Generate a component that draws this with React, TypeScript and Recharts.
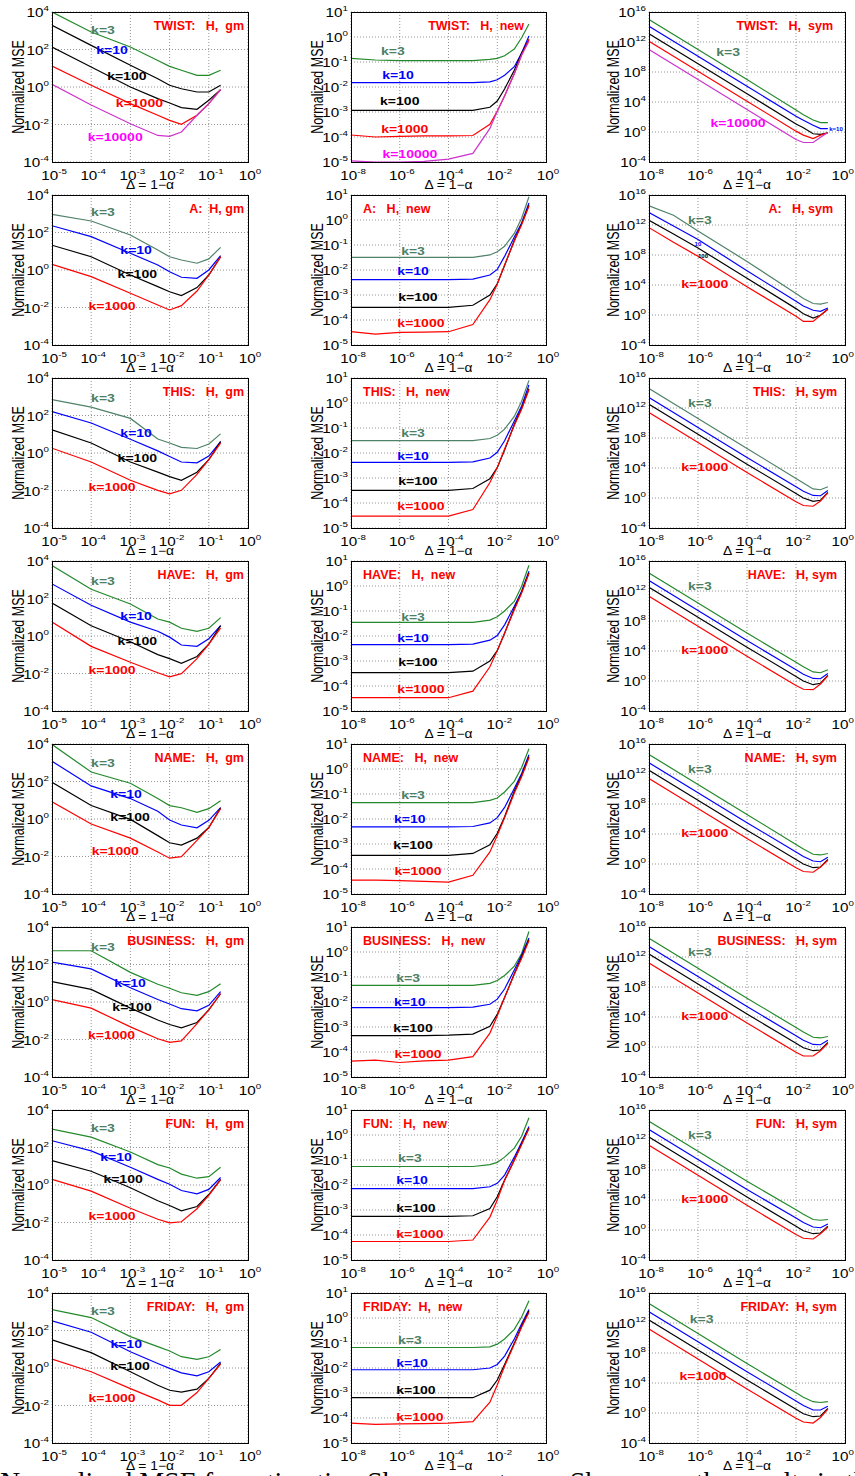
import React from "react";
import { LineChart, Line, XAxis, YAxis, CartesianGrid, ReferenceDot } from "recharts";

// x grids shared by every panel of a column
const GM_X = [1e-5, 1e-4, 1e-3, 5e-3, 1e-2, 2e-2, 5e-2, 1e-1, 2e-1];
const NEW_X = [1e-8, 1e-7, 1e-6, 1e-5, 1e-4, 1e-3, 5e-3, 1e-2, 2e-2, 5e-2, 1e-1, 2e-1];
const SYM_X = [1e-8, 1e-7, 1e-6, 1e-4, 1e-2, 2e-2, 5e-2, 1e-1, 2e-1];

const GM_XTICKS = [1e-5, 1e-4, 1e-3, 1e-2, 1e-1, 1];
const GM_YTICKS = [1e-4, 1e-2, 1, 1e2, 1e4];
const NEW_XTICKS = [1e-8, 1e-6, 1e-4, 1e-2, 1];
const NEW_YTICKS = [1e-5, 1e-4, 1e-3, 1e-2, 1e-1, 1, 10];
const SYM_XTICKS = [1e-8, 1e-6, 1e-4, 1e-2, 1];
const SYM_YTICKS = [1e-4, 1, 1e4, 1e8, 1e12, 1e16];

const WORDS = ["TWIST", "A", "THIS", "HAVE", "NAME", "BUSINESS", "FUN", "FRIDAY"];
const K_TEXT = ["k=3", "k=10", "k=100", "k=1000", "k=10000"];

// ---- "gm" column (rows: k=3, k=10, k=100, k=1000[, k=10000]) ----
const TWIST_GM = [
  [1e4, 850, 135, 26, 12.6, 7.8, 4.2, 4.2, 7.8],
  [1950, 166, 14.5, 2.75, 1.23, 0.81, 0.54, 0.54, 1.23],
  [135, 11.7, 1.0, 0.24, 0.14, 0.079, 0.065, 0.195, 0.72],
  [13.2, 1.23, 0.13, 0.031, 0.0166, 0.0102, 0.031, 0.13, 0.72],
  [1.38, 0.11, 0.011, 2.6e-3, 2.35e-3, 4e-3, 0.031, 0.13, 0.72],
];
const A_GM = [
  [930, 410, 74, 11.7, 5.1, 3.4, 2.3, 3.9, 16],
  [230, 60, 7.8, 1.86, 0.81, 0.41, 0.36, 1.0, 5.8],
  [21, 5.1, 0.54, 0.13, 0.069, 0.043, 0.115, 0.54, 5.1],
  [2.0, 0.44, 0.058, 0.0135, 7.4e-3, 0.0126, 0.076, 0.54, 5.0],
];
const THIS_GM = [
  [700, 280, 70, 5.6, 3.4, 2.0, 1.74, 3.0, 10.5],
  [160, 40, 5.4, 1.3, 0.65, 0.33, 0.3, 0.68, 4.1],
  [17, 3.4, 0.33, 0.095, 0.055, 0.035, 0.095, 0.44, 4.1],
  [1.8, 0.33, 0.035, 0.0102, 6.6e-3, 0.0102, 0.072, 0.44, 3.4],
];
const HAVE_GM = [
  [5800, 310, 51, 8.1, 5.5, 2.6, 1.78, 2.6, 9.5],
  [600, 44, 5.5, 1.78, 0.87, 0.33, 0.28, 0.72, 3.55],
  [58, 3.55, 0.49, 0.102, 0.062, 0.035, 0.081, 0.37, 3.55],
  [5.5, 0.28, 0.04, 0.011, 6.6e-3, 9.8e-3, 0.062, 0.37, 2.6],
];
const NAME_GM = [
  [9500, 320, 81, 12.3, 5.2, 4.0, 2.24, 3.55, 9.3],
  [1200, 58, 12.3, 2.6, 0.89, 0.48, 0.34, 0.85, 4.0],
  [91, 5.2, 0.95, 0.13, 0.054, 0.041, 0.095, 0.35, 4.0],
  [8.3, 0.54, 0.095, 0.0174, 8.1e-3, 9.8e-3, 0.072, 0.35, 3.55],
];
const BUSINESS_GM = [
  [540, 540, 38, 8.9, 5.4, 3.1, 2.24, 3.55, 9.5],
  [135, 58, 5.8, 1.35, 0.78, 0.44, 0.34, 0.66, 3.55],
  [12.3, 4.7, 0.47, 0.11, 0.063, 0.042, 0.081, 0.38, 2.75],
  [1.35, 0.47, 0.047, 0.011, 7.1e-3, 8.5e-3, 0.071, 0.38, 2.75],
];
const FUN_GM = [
  [950, 355, 58, 12.3, 8.1, 3.8, 2.3, 2.8, 8.9],
  [230, 66, 8.9, 2.0, 1.1, 0.51, 0.34, 0.58, 2.5],
  [20, 5.4, 0.71, 0.145, 0.081, 0.042, 0.071, 0.31, 2.0],
  [2.0, 0.47, 0.058, 0.015, 9.5e-3, 0.011, 0.054, 0.28, 1.86],
];
const FRIDAY_GM = [
  [1300, 490, 47, 13.8, 8.1, 4.0, 2.9, 4.0, 9.8],
  [330, 81, 7.4, 1.74, 0.95, 0.55, 0.38, 0.63, 2.1],
  [32, 6.6, 0.63, 0.12, 0.065, 0.052, 0.074, 0.28, 1.74],
  [3.0, 0.63, 0.079, 0.02, 0.0102, 0.0102, 0.049, 0.28, 1.62],
];

// ---- "new" column ----
const TWIST_NEW = [
  [0.14, 0.12, 0.113, 0.113, 0.113, 0.113, 0.128, 0.14, 0.178, 0.33, 0.93, 3.3],
  [0.015, 0.015, 0.015, 0.015, 0.015, 0.015, 0.016, 0.0195, 0.0295, 0.065, 0.23, 1.1],
  [1.17e-3, 1.17e-3, 1.17e-3, 1.17e-3, 1.17e-3, 1.17e-3, 1.55e-3, 2.75e-3, 8.3e-3, 0.047, 0.23, 0.8],
  [1.2e-4, 1e-4, 1.05e-4, 1.1e-4, 1.1e-4, 1.15e-4, 3.2e-4, 1.07e-3, 4.4e-3, 0.034, 0.19, 0.8],
  [1.1e-5, 1.0e-5, 1.0e-5, 1.05e-5, 1.3e-5, 2.2e-5, 2.2e-4, 1.07e-3, 4.4e-3, 0.034, 0.19, 0.68],
];
const A_NEW = [
  [0.032, 0.032, 0.032, 0.032, 0.032, 0.032, 0.04, 0.054, 0.089, 0.29, 1.17, 8.5],
  [4.1e-3, 4.1e-3, 4.1e-3, 4.1e-3, 4.1e-3, 4.3e-3, 6.3e-3, 0.0105, 0.035, 0.21, 0.76, 4.8],
  [3.2e-4, 3.2e-4, 3.2e-4, 3.2e-4, 3.2e-4, 3.9e-4, 1.0e-3, 2.8e-3, 0.015, 0.155, 0.7, 3.9],
  [3.4e-5, 2.7e-5, 3.2e-5, 3.3e-5, 3.4e-5, 6.6e-5, 6.5e-4, 2.7e-3, 0.016, 0.14, 0.65, 3.6],
];
const THIS_NEW = [
  [0.031, 0.031, 0.031, 0.031, 0.031, 0.031, 0.038, 0.051, 0.09, 0.29, 1.17, 8.0],
  [4.2e-3, 4.2e-3, 4.2e-3, 4.2e-3, 4.2e-3, 4.4e-3, 6.3e-3, 0.0107, 0.031, 0.19, 0.76, 5.3],
  [3.2e-4, 3.2e-4, 3.2e-4, 3.2e-4, 3.2e-4, 3.8e-4, 9.3e-4, 2.6e-3, 0.013, 0.14, 0.62, 3.7],
  [3.0e-5, 3.0e-5, 3.0e-5, 3.0e-5, 3.0e-5, 5.5e-5, 6.6e-4, 2.6e-3, 0.0144, 0.126, 0.56, 3.4],
];
const HAVE_NEW = [
  [0.035, 0.035, 0.035, 0.035, 0.035, 0.035, 0.043, 0.059, 0.1, 0.24, 0.98, 6.8],
  [4.5e-3, 4.5e-3, 4.5e-3, 4.5e-3, 4.5e-3, 4.7e-3, 6.8e-3, 0.0104, 0.028, 0.155, 0.62, 3.9],
  [3.4e-4, 3.4e-4, 3.4e-4, 3.4e-4, 3.4e-4, 3.9e-4, 1.0e-3, 2.6e-3, 0.013, 0.125, 0.56, 3.4],
  [3.4e-5, 3.4e-5, 3.4e-5, 3.4e-5, 3.4e-5, 6.2e-5, 5.9e-4, 2.6e-3, 0.013, 0.11, 0.52, 3.2],
];
const NAME_NEW = [
  [0.045, 0.045, 0.045, 0.045, 0.045, 0.045, 0.056, 0.069, 0.12, 0.32, 1.15, 6.5],
  [4.8e-3, 4.8e-3, 4.8e-3, 4.8e-3, 4.8e-3, 5.0e-3, 7.0e-3, 0.0113, 0.029, 0.165, 0.66, 3.7],
  [3.5e-4, 3.5e-4, 3.5e-4, 3.5e-4, 3.5e-4, 4.2e-4, 9.3e-4, 2.7e-3, 0.0124, 0.13, 0.55, 3.1],
  [3.6e-5, 3.6e-5, 3.4e-5, 3.2e-5, 3.0e-5, 5.6e-5, 4.8e-4, 2.2e-3, 0.0112, 0.107, 0.49, 2.8],
];
const BUSINESS_NEW = [
  [0.046, 0.046, 0.046, 0.046, 0.046, 0.046, 0.056, 0.072, 0.115, 0.27, 0.87, 6.6],
  [6.0e-3, 6.0e-3, 6.0e-3, 6.0e-3, 6.0e-3, 6.2e-3, 8.1e-3, 0.013, 0.033, 0.19, 0.76, 3.6],
  [4.5e-4, 4.5e-4, 4.5e-4, 4.5e-4, 4.7e-4, 5.2e-4, 1.07e-3, 3.2e-3, 0.015, 0.135, 0.64, 3.1],
  [4.3e-5, 4.7e-5, 3.8e-5, 4.4e-5, 4.7e-5, 6.5e-5, 5.7e-4, 2.75e-3, 0.015, 0.126, 0.55, 2.9],
];
const FUN_NEW = [
  [0.055, 0.055, 0.055, 0.055, 0.055, 0.055, 0.065, 0.08, 0.13, 0.3, 0.89, 4.9],
  [7.2e-3, 7.2e-3, 7.2e-3, 7.2e-3, 7.2e-3, 7.2e-3, 8.5e-3, 0.0117, 0.025, 0.13, 0.51, 2.2],
  [5.6e-4, 5.6e-4, 5.6e-4, 5.6e-4, 5.6e-4, 5.9e-4, 1.15e-3, 3.4e-3, 0.016, 0.1, 0.45, 1.9],
  [5.5e-5, 5.5e-5, 5.5e-5, 5.5e-5, 5.5e-5, 6.3e-5, 5.2e-4, 2.5e-3, 0.015, 0.096, 0.41, 1.8],
];
const FRIDAY_NEW = [
  [0.066, 0.066, 0.066, 0.066, 0.066, 0.066, 0.07, 0.09, 0.145, 0.35, 1.1, 4.9],
  [8.5e-3, 8.5e-3, 8.5e-3, 8.5e-3, 8.5e-3, 8.5e-3, 0.01, 0.0138, 0.03, 0.145, 0.59, 2.2],
  [6.5e-4, 6.5e-4, 6.5e-4, 6.5e-4, 6.5e-4, 6.5e-4, 1.3e-3, 3.3e-3, 0.0138, 0.098, 0.48, 1.9],
  [6.2e-5, 5.6e-5, 5.8e-5, 6.0e-5, 6.2e-5, 7.2e-5, 4.3e-4, 2.1e-3, 0.0117, 0.09, 0.43, 1.66],
];

// ---- "sym" column ----
const TWIST_SYM = [
  [1e15, 1e13, 1e11, 1e7, 850, 200, 40, 18, 18],
  [1.26e14, 1.26e12, 1.26e10, 1.26e6, 126, 37, 7.9, 2.8, 2.8],
  [1.26e13, 1.26e11, 1.26e9, 1.26e5, 11.7, 3.8, 0.58, 0.47, 0.79],
  [1.26e12, 1.26e10, 1.26e8, 1.26e4, 1.3, 0.38, 0.135, 0.38, 0.79],
  [1e11, 1e9, 1e7, 1000, 0.1, 0.04, 0.04, 0.2, 0.87],
];
const A_SYM = [
  [3.6e14, 2e13, 1.55e11, 1.4e7, 760, 160, 34, 28, 46],
  [4.6e13, 7.4e11, 1.2e10, 7.8e5, 69, 16, 4.3, 3.1, 8.7],
  [4.3e12, 6.3e10, 8.7e8, 7.9e4, 7.1, 1.5, 0.4, 0.91, 5.8],
  [4.4e11, 5e9, 6.6e7, 6e3, 0.66, 0.14, 0.14, 0.91, 5.8],
];
const THIS_SYM = [
  [4e14, 4e12, 4e10, 4e6, 400, 100, 16, 12.6, 32],
  [2.5e13, 2.5e11, 2.5e9, 2.5e5, 32, 7.9, 2.2, 2.0, 10],
  [3.2e12, 3.2e10, 3.2e8, 3.2e4, 4, 1, 0.35, 0.5, 5.6],
  [2.5e11, 2.5e9, 2.5e7, 2500, 0.32, 0.1, 0.08, 0.4, 5],
];
const HAVE_SYM = [
  [2.5e14, 2.5e12, 2.5e10, 2.5e6, 320, 79, 16, 12.6, 32],
  [2.5e13, 2.5e11, 2.5e9, 2.5e5, 32, 7.9, 2.2, 2.0, 10],
  [3.2e12, 3.2e10, 3.2e8, 3.2e4, 4, 1, 0.32, 0.5, 5.6],
  [2e11, 2e9, 2e7, 2000, 0.25, 0.08, 0.07, 0.4, 5],
];
const NAME_SYM = [
  [4e14, 4e12, 4e10, 4e6, 400, 100, 20, 16, 25],
  [3.2e13, 3.2e11, 3.2e9, 3.2e5, 40, 10, 2.5, 2, 7.9],
  [3.2e12, 3.2e10, 3.2e8, 3.2e4, 4, 1, 0.32, 0.4, 4],
  [2.5e11, 2.5e9, 2.5e7, 2500, 0.32, 0.1, 0.08, 0.4, 3.2],
];
const BUSINESS_SYM = [
  [3.2e14, 3.2e12, 3.2e10, 3.2e6, 400, 100, 20, 16, 25],
  [2.5e13, 2.5e11, 2.5e9, 2.5e5, 32, 7.9, 2.2, 2, 7.9],
  [2.5e12, 2.5e10, 2.5e8, 2.5e4, 3.2, 0.8, 0.32, 0.4, 4],
  [1.6e11, 1.6e9, 1.6e7, 1600, 0.2, 0.063, 0.063, 0.32, 3.2],
];
const FUN_SYM = [
  [3.2e14, 3.2e12, 3.2e10, 3.2e6, 500, 126, 25, 20, 25],
  [2.5e13, 2.5e11, 2.5e9, 2.5e5, 40, 10, 2.5, 2, 6.3],
  [2.5e12, 2.5e10, 2.5e8, 2.5e4, 3.2, 0.8, 0.32, 0.4, 3.2],
  [2e11, 2e9, 2e7, 2000, 0.25, 0.08, 0.063, 0.32, 2.5],
];
const FRIDAY_SYM = [
  [4e14, 4e12, 4e10, 4e6, 500, 126, 32, 25, 32],
  [3.2e13, 3.2e11, 3.2e9, 3.2e5, 40, 10, 2.5, 2.5, 7.9],
  [2.5e12, 2.5e10, 2.5e8, 2.5e4, 3.2, 0.8, 0.32, 0.4, 4],
  [1.6e11, 1.6e9, 1.6e7, 1600, 0.2, 0.063, 0.045, 0.25, 3.2],
];

// k-label anchors (data coords): [x, y] per k, same order as series
const TWIST_GM_LBL = [[2e-4, 1050], [3.4e-4, 91], [8.1e-4, 3.7], [1.7e-3, 0.15], [4.1e-4, 2.3e-3]];
const A_GM_LBL = [[2e-4, 1200], [1.4e-3, 12.6], [1.5e-3, 0.59], [3.4e-4, 0.013]];
const THIS_GM_LBL = [[2e-4, 830], [1.4e-3, 11.5], [1.5e-3, 0.52], [3.4e-4, 0.015]];
const HAVE_GM_LBL = [[2e-4, 850], [1.4e-3, 12.6], [1.5e-3, 0.52], [3.4e-4, 0.015]];
const NAME_GM_LBL = [[2e-4, 940], [7.7e-4, 23], [9.8e-4, 1.23], [4.1e-4, 0.021]];
const BUSINESS_GM_LBL = [[2e-4, 890], [9.8e-4, 10], [1.1e-3, 0.58], [3.3e-4, 0.017]];
const FUN_GM_LBL = [[2e-4, 1050], [4.3e-4, 33], [6.5e-4, 2.2], [3.4e-4, 0.023]];
const FRIDAY_GM_LBL = [[2e-4, 1050], [7.8e-4, 20], [9.8e-4, 1.23], [3.4e-4, 0.027]];

const TWIST_NEW_LBL = [[5.2e-7, 0.27], [8.5e-7, 0.03], [1e-6, 2.7e-3], [1.6e-6, 2.2e-4], [2.6e-6, 2.2e-5]];
const A_NEW_LBL = [[3.5e-6, 0.061], [3.5e-6, 8.9e-3], [5.6e-6, 8.1e-4], [7.4e-6, 7.4e-5]];
const THIS_NEW_LBL = [[3.5e-6, 0.063], [3.5e-6, 7.9e-3], [5.6e-6, 7.9e-4], [7.4e-6, 7.4e-5]];
const HAVE_NEW_LBL = [[3.5e-6, 0.061], [3.5e-6, 8.1e-3], [5.6e-6, 8.9e-4], [7.4e-6, 7.4e-5]];
const NAME_NEW_LBL = [[3.5e-6, 0.089], [2.6e-6, 9.8e-3], [3.5e-6, 8.9e-4], [5.6e-6, 8.1e-5]];
const BUSINESS_NEW_LBL = [[2.2e-6, 0.089], [2.6e-6, 9.8e-3], [3.5e-6, 8.9e-4], [5.6e-6, 8.1e-5]];
const FUN_NEW_LBL = [[2.6e-6, 0.126], [3.2e-6, 0.0155], [4.6e-6, 1.26e-3], [6.7e-6, 1.07e-4]];
const FRIDAY_NEW_LBL = [[2.6e-6, 0.129], [3.2e-6, 0.0155], [4.6e-6, 1.29e-3], [6.7e-6, 1.07e-4]];

const TWIST_SYM_LBL = [[1.7e-5, 4.3e10], [0.43, 2.3], null, null, [4.3e-5, 14.5]];
const A_SYM_LBL = [[1.2e-6, 4.3e12], [1e-6, 2.5e9], [1.6e-6, 6.3e7], [1.9e-6, 1.6e4]];
const ROW_SYM_LBL = [[1.2e-6, 4.6e12], null, null, [1.9e-6, 1.3e4]];
const FRIDAY_SYM_LBL = [[1.4e-6, 4e12], null, null, [1.6e-6, 8e4]];

const GM_DATA = [TWIST_GM, A_GM, THIS_GM, HAVE_GM, NAME_GM, BUSINESS_GM, FUN_GM, FRIDAY_GM];
const NEW_DATA = [TWIST_NEW, A_NEW, THIS_NEW, HAVE_NEW, NAME_NEW, BUSINESS_NEW, FUN_NEW, FRIDAY_NEW];
const SYM_DATA = [TWIST_SYM, A_SYM, THIS_SYM, HAVE_SYM, NAME_SYM, BUSINESS_SYM, FUN_SYM, FRIDAY_SYM];
const GM_LBL = [TWIST_GM_LBL, A_GM_LBL, THIS_GM_LBL, HAVE_GM_LBL, NAME_GM_LBL, BUSINESS_GM_LBL, FUN_GM_LBL, FRIDAY_GM_LBL];
const NEW_LBL = [TWIST_NEW_LBL, A_NEW_LBL, THIS_NEW_LBL, HAVE_NEW_LBL, NAME_NEW_LBL, BUSINESS_NEW_LBL, FUN_NEW_LBL, FRIDAY_NEW_LBL];
const SYM_LBL = [TWIST_SYM_LBL, A_SYM_LBL, ROW_SYM_LBL, ROW_SYM_LBL, ROW_SYM_LBL, ROW_SYM_LBL, ROW_SYM_LBL, FRIDAY_SYM_LBL];

const FONT = '"Liberation Sans", Arial, Helvetica, sans-serif';
const GREEN = "#23892b";
const GREY_GREEN = "#4f8268";
const K3_TEXT = "#4b8064";
const BLUE = "#0000ff";
const RED = "#ff0000";
const MAGENTA = "#cc33cc";

const PAGE_W = 855;
const ROW_TOP0 = 12;
const ROW_STEP = 183;
const PLOT_H = 150;
const STRETCH = 1.22; // the original figure's text is wider than it is tall

const COLS = [
  { left: 52, width: 196, xs: GM_X, xDomain: [1e-5, 1], yDomain: [1e-4, 1e4], xTicks: GM_XTICKS, yTicks: GM_YTICKS, ylabelX: 19, data: GM_DATA, lbl: GM_LBL },
  { left: 351, width: 195, xs: NEW_X, xDomain: [1e-8, 1], yDomain: [1e-5, 10], xTicks: NEW_XTICKS, yTicks: NEW_YTICKS, ylabelX: 318, data: NEW_DATA, lbl: NEW_LBL },
  { left: 649, width: 196, xs: SYM_X, xDomain: [1e-8, 1], yDomain: [1e-4, 1e16], xTicks: SYM_XTICKS, yTicks: SYM_YTICKS, ylabelX: 614, data: SYM_DATA, lbl: SYM_LBL },
];

function titleFor(word: string, col: number): string {
  if (col === 0) return word === "A" ? "A:  H, gm" : `${word}:   H,  gm`;
  if (col === 1) return word === "FRIDAY" ? "FRIDAY:  H,  new" : `${word}:   H,  new`;
  if (word === "TWIST") return "TWIST:   H,  sym";
  if (word === "FRIDAY") return "FRIDAY:  H, sym";
  return `${word}:   H, sym`;
}

function seriesColors(row: number, col: number, n: number): string[] {
  const g = row === 1 || row === 2 ? GREY_GREEN : GREEN;
  if (row === 0 && col === 0) return [GREEN, "#000", "#000", RED, MAGENTA];
  return [g, BLUE, "#000", RED, MAGENTA].slice(0, n);
}
const LABEL_COLORS = [K3_TEXT, BLUE, "#000", RED, "#ff00ff"];

const XTick = (props: any) => {
  const { x, y, payload, rightLimit } = props;
  const e = Math.round(Math.log10(payload.value));
  const half = ((12.5 * 1.112 + 8 * 0.556 * String(e).length) * STRETCH) / 2;
  // keep the last label inside the page instead of letting it run off the edge
  const cx = Math.min(x + 2, (rightLimit ?? Infinity) - half - 1);
  return (
    <g transform={`translate(${cx},${y + 18}) scale(${STRETCH},1)`}>
      <text x={0} y={0} textAnchor="middle" fontFamily={FONT} fontSize={12.5} fill="#000">
        10<tspan dy={-6} fontSize={8}>{e}</tspan>
      </text>
    </g>
  );
};

const YTick = (props: any) => {
  const { x, y, payload } = props;
  const e = Math.round(Math.log10(payload.value));
  return (
    <g transform={`translate(${x - 3},${y + 5}) scale(${STRETCH},1)`}>
      <text x={0} y={0} textAnchor="end" fontFamily={FONT} fontSize={12.5} fill="#000">
        10<tspan dy={-6} fontSize={8}>{e}</tspan>
      </text>
    </g>
  );
};

const KLabel = (props: any) => {
  const vb = props.viewBox || {};
  const cx = (vb.x ?? 0) + (vb.width ?? 0) / 2;
  const cy = (vb.y ?? 0) + (vb.height ?? 0) / 2;
  const size = props.size ?? 12;
  return (
    <g transform={`translate(${cx},${cy}) scale(${STRETCH},1)`}>
      <text x={0} y={size * 0.36} textAnchor="middle" fill={props.color} fontSize={size} fontWeight="bold" fontFamily={FONT}>
        {props.text}
      </text>
    </g>
  );
};

function Panel({ row, col }: { row: number; col: number }) {
  const c = COLS[col];
  const top = ROW_TOP0 + ROW_STEP * row;
  const series = c.data[row];
  const labels = c.lbl[row];
  const colors = seriesColors(row, col, series.length);
  const chartLeft = c.left - 50;
  const data = c.xs.map((x, i) => {
    const o: Record<string, number> = { x };
    series.forEach((s, j) => (o["s" + j] = s[i]));
    return o;
  });
  return (
    <div style={{ position: "absolute", left: chartLeft, top: top - 10 }}>
      <LineChart width={c.width + 75} height={PLOT_H + 40} data={data} margin={{ top: 10, right: 25, bottom: 0, left: 0 }}>
        <CartesianGrid stroke="#7a7a7a" strokeDasharray="1 2" strokeWidth={0.8} />
        <XAxis dataKey="x" type="number" scale="log" domain={c.xDomain} ticks={c.xTicks} interval={0} allowDataOverflow height={30} tickSize={0} tickMargin={0} axisLine={false} tickLine={false} tick={<XTick rightLimit={PAGE_W - chartLeft} />} />
        <YAxis type="number" scale="log" domain={c.yDomain} ticks={c.yTicks} interval={0} allowDataOverflow width={50} tickSize={0} tickMargin={0} axisLine={false} tickLine={false} tick={<YTick />} />
        {series.map((_, j) => (
          <Line key={j} dataKey={"s" + j} type="linear" stroke={colors[j]} strokeWidth={1.2} dot={false} activeDot={false} isAnimationActive={false} />
        ))}
        {labels.map((l, j) => {
          if (!l) return null;
          const tiny = col === 2 && ((row === 0 && j === 1) || (row === 1 && (j === 1 || j === 2)));
          const text = tiny && row === 1 ? K_TEXT[j].slice(2) : K_TEXT[j];
          return (
            <ReferenceDot key={"l" + j} x={l[0]} y={l[1]} r={1} fill="none" stroke="none" ifOverflow="visible"
              label={<KLabel text={text} color={LABEL_COLORS[j]} size={tiny ? 5 : 11.5} />} />
          );
        })}
      </LineChart>
    </div>
  );
}

export default function App() {
  const panels: React.ReactNode[] = [];
  const overlay: React.ReactNode[] = [];
  WORDS.forEach((word, row) => {
    COLS.forEach((c, col) => {
      const top = ROW_TOP0 + ROW_STEP * row;
      panels.push(<Panel key={`${row}-${col}`} row={row} col={col} />);
      const title = titleFor(word, col);
      let tx = c.left + c.width - 4;
      let anchor = "end";
      if (col === 1) {
        if (row === 0) tx = c.left + c.width - 22;
        else { tx = c.left + 12; anchor = "start"; }
      }
      if (col === 2) tx = c.left + c.width - (row < 2 ? 12 : 8);
      overlay.push(
        <g key={`o${row}-${col}`}>
          <rect x={c.left + 0.5} y={top + 0.5} width={c.width} height={PLOT_H} fill="none" stroke="#000" strokeWidth={1} />
          <text x={tx} y={top + 17.5} textAnchor={anchor as any} fill={RED} fontWeight="bold" fontSize={12.5} fontFamily={FONT} style={{ whiteSpace: "pre" }}>
            {title}
          </text>
          <g transform={`translate(${c.ylabelX},${top + PLOT_H / 2}) rotate(-90) scale(1,1.3)`}>
            <text x={0} y={0} textAnchor="middle" dy={4} fontSize={12.5} fontFamily={FONT} fill="#000">
              Normalized MSE
            </text>
          </g>
          <g transform={`translate(${c.left + c.width / 2},${top + PLOT_H + 27}) scale(1.15,1)`}>
            <text x={0} y={0} textAnchor="middle" fontSize={12} fontFamily={FONT} fill="#000">
              Δ = 1−α
            </text>
          </g>
        </g>
      );
    });
  });
  return (
    <div style={{ position: "absolute", left: 0, top: 0, width: PAGE_W, height: 1476, background: "#fff", overflow: "hidden" }}>
      {panels}
      <svg width={PAGE_W} height={1476} style={{ position: "absolute", left: 0, top: 0, pointerEvents: "none" }}>
        {overlay}
        <text x={0} y={1491} fontFamily='"Liberation Serif", "Times New Roman", serif' fontSize={28} fill="#000">
          Normalized MSE for estimating Shannon entropy. Shown are the results in the
        </text>
      </svg>
    </div>
  );
}
